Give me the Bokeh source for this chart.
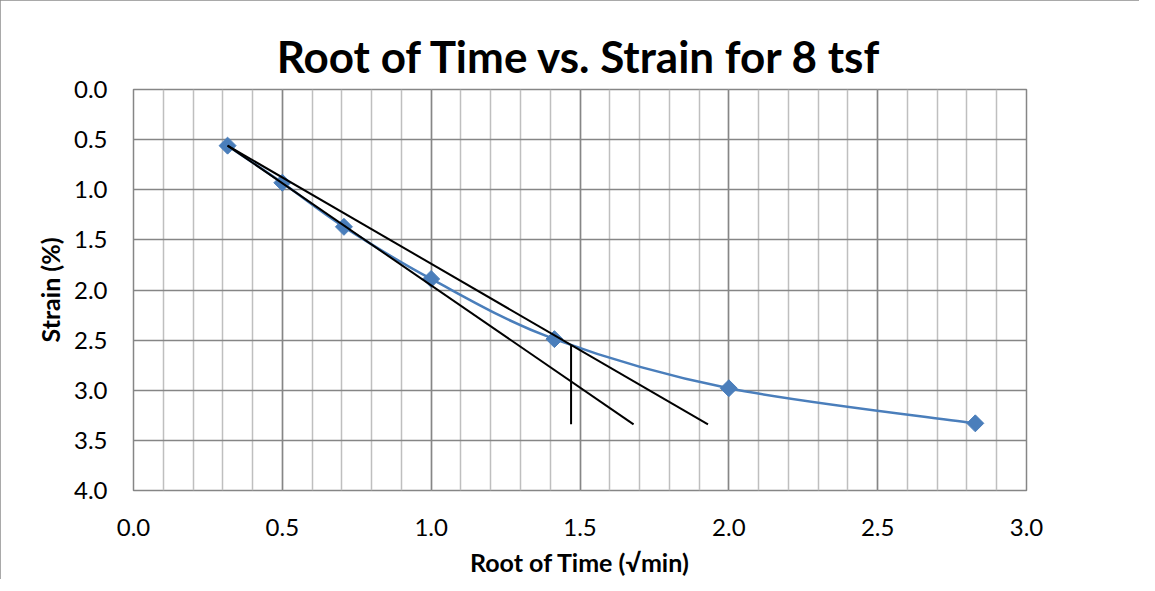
import math
from bokeh.plotting import figure
from bokeh.models import Range1d, SingleIntervalTicker, PrintfTickFormatter
from bokeh.embed import file_html
from bokeh.resources import INLINE

# Data
root_time = [0.316, 0.5, 0.707, 1.0, 1.414, 2.0, 2.828]
strain = [0.56, 0.93, 1.37, 1.89, 2.49, 2.98, 3.33]

# Construction lines (Taylor's root-time method)
line_a_x = [0.316, 1.68]
line_a_y = [0.56, 3.34]
line_b_x = [0.316, 1.93]
line_b_y = [0.56, 3.34]
vert_x = [1.47, 1.47]
vert_y = [2.55, 3.34]

title_text = "Root of Time vs. Strain for 8 tsf"
x_label = "Root of Time (\u221amin)"
y_label = "Strain (%)"

FONT = "Lato"
BLUE = "#4A7EBB"

p = figure(frame_width=893, frame_height=401, output_backend="svg", toolbar_location=None,
           x_range=Range1d(0, 3), y_range=Range1d(4, 0),
           min_border_left=133, min_border_right=113, min_border_top=89, min_border_bottom=84)

p.title.text = title_text
p.title.align = "center"
p.title.text_font = FONT
p.title.text_font_size = "44px"
p.title.text_font_style = "bold"
p.title.text_color = "black"
p.title.standoff = 16

p.styles = {"outline": "2px solid #8c8c8c", "outline-offset": "-2px"}

p.outline_line_color = "#868686"
p.outline_line_width = 1.5

# Axes
xt = SingleIntervalTicker(interval=0.5, num_minor_ticks=5)
yt = SingleIntervalTicker(interval=0.5, num_minor_ticks=0)
p.xaxis.ticker = xt
p.yaxis.ticker = yt
p.xgrid.ticker = xt
p.ygrid.ticker = yt
for ax in (p.xaxis[0], p.yaxis[0]):
    ax.formatter = PrintfTickFormatter(format="%.1f")
    ax.major_tick_line_color = None
    ax.minor_tick_line_color = None
    ax.axis_line_color = None
    ax.major_label_text_font = FONT
    ax.major_label_text_font_size = "24px"
    ax.major_label_text_color = "black"
    ax.axis_label_text_font = FONT
    ax.axis_label_text_font_size = "25px"
    ax.axis_label_text_font_style = "bold"
    ax.axis_label_text_color = "black"

p.xaxis.axis_label = x_label
p.yaxis.axis_label = y_label
p.xaxis.major_label_standoff = 22
p.yaxis.major_label_standoff = 20
p.xaxis.axis_label_standoff = 8
p.yaxis.axis_label_standoff = 6

p.xgrid.grid_line_color = "#868686"
p.xgrid.grid_line_width = 1.5
p.xgrid.minor_grid_line_color = "#BFBFBF"
p.xgrid.minor_grid_line_width = 1.5
p.ygrid.grid_line_color = "#868686"
p.ygrid.grid_line_width = 1.5

# Smoothed series line (Catmull-Rom via cubic Bezier segments)
n = len(root_time)
x0, y0, x1, y1, cx0, cy0, cx1, cy1 = [], [], [], [], [], [], [], []
for i in range(n - 1):
    ip = max(i - 1, 0)
    inn = min(i + 2, n - 1)
    x0.append(root_time[i]); y0.append(strain[i])
    x1.append(root_time[i + 1]); y1.append(strain[i + 1])
    cx0.append(root_time[i] + (root_time[i + 1] - root_time[ip]) / 6)
    cy0.append(strain[i] + (strain[i + 1] - strain[ip]) / 6)
    cx1.append(root_time[i + 1] - (root_time[inn] - root_time[i]) / 6)
    cy1.append(strain[i + 1] - (strain[inn] - strain[i]) / 6)
p.bezier(x0=x0, y0=y0, x1=x1, y1=y1, cx0=cx0, cy0=cy0, cx1=cx1, cy1=cy1,
         line_color=BLUE, line_width=2.5)
p.scatter(root_time, strain, marker="square", size=12, angle=math.pi / 4,
          fill_color=BLUE, line_color=BLUE)

p.line(line_a_x, line_a_y, line_color="black", line_width=2)
p.line(line_b_x, line_b_y, line_color="black", line_width=2)
p.line(vert_x, vert_y, line_color="black", line_width=2)

open("out.html", "w").write(file_html(p, INLINE))
